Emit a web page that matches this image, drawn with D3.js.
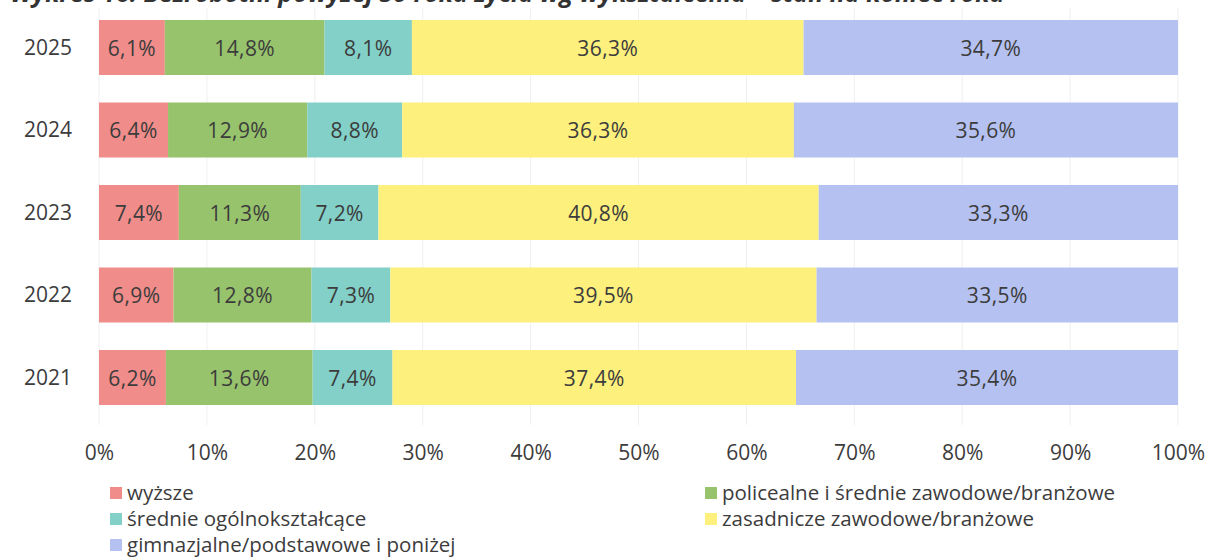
<!DOCTYPE html>
<html>
<head>
<meta charset="utf-8">
<script src="https://d3js.org/d3.v7.min.js"></script>
<style>
	html, body { margin: 0; padding: 0; background: #fff; }
	svg { display: block; font-family: 'Open Sans', sans-serif; }
</style>
</head>
<body>
<div id="chart"></div>
<script>
// Data
const years = ['2025', '2024', '2023', '2022', '2021'];
const categories = ['wyższe', 'policealne i średnie zawodowe/branżowe', 'średnie ogólnokształcące', 'zasadnicze zawodowe/branżowe', 'gimnazjalne/podstawowe i poniżej'];
const wyzsze = [6.1, 6.4, 7.4, 6.9, 6.2];
const policealne = [14.8, 12.9, 11.3, 12.8, 13.6];
const srednie = [8.1, 8.8, 7.2, 7.3, 7.4];
const zasadnicze = [36.3, 36.3, 40.8, 39.5, 37.4];
const gimnazjalne = [34.7, 35.6, 33.3, 33.5, 35.4];
const tickValues = [0, 10, 20, 30, 40, 50, 60, 70, 80, 90, 100];
const colors = ['#f08c8a', '#97c36c', '#82d0c7', '#fdf07c', '#b5c1f0'];

const width = 1210, height = 557;
const svg = d3.select('#chart').append('svg')
	.attr('width', width)
	.attr('height', height);

// Title (cut off at the top edge, as in the source)
svg.append('text')
	.attr('x', 10)
	.attr('y', 2)
	.attr('font-size', 25)
	.attr('font-weight', 'bold')
	.attr('font-style', 'italic')
	.attr('fill', '#333')
	.text('Wykres 16. Bezrobotni powyżej 50 roku życia wg wykształcenia – stan na koniec roku');

const x = d3.scaleLinear().domain([0, 100]).range([99, 1178]);
const y = d3.scaleBand().domain(years).range([6.25, 418.75]).paddingInner(1 / 3).paddingOuter(1 / 6);

// Grid
svg.selectAll('line.grid')
	.data(tickValues)
	.join('line')
	.attr('class', 'grid')
	.attr('x1', d => x(d)).attr('x2', d => x(d))
	.attr('y1', 8).attr('y2', 425)
	.attr('stroke', '#efefef')
	.attr('stroke-width', 1);

// Stack
const rows = years.map((yr, i) => ({
	year: yr,
	values: [wyzsze[i], policealne[i], srednie[i], zasadnicze[i], gimnazjalne[i]]
}));
const segments = [];
rows.forEach(r => {
	let acc = 0;
	r.values.forEach((v, k) => {
		segments.push({ year: r.year, k: k, x0: acc, x1: acc + v, v: v });
		acc += v;
	});
});

svg.selectAll('rect.seg')
	.data(segments)
	.join('rect')
	.attr('class', 'seg')
	.attr('x', d => x(d.x0))
	.attr('width', d => Math.min(x(d.x1), x(100)) - x(d.x0))
	.attr('y', d => y(d.year))
	.attr('height', y.bandwidth())
	.attr('fill', d => colors[d.k]);

svg.selectAll('text.val')
	.data(segments)
	.join('text')
	.attr('class', 'val')
	.attr('x', d => x((d.x0 + Math.min(d.x1, 100)) / 2))
	.attr('y', d => y(d.year) + y.bandwidth() / 2 + 1)
	.attr('dy', '0.35em')
	.attr('text-anchor', 'middle')
	.attr('font-size', 21)
	.attr('letter-spacing', 0.4)
	.attr('fill', '#3c3c3c')
	.text(d => d3.format('.1f')(d.v).replace('.', ',') + '%');

// Year labels
svg.selectAll('text.year')
	.data(years)
	.join('text')
	.attr('class', 'year')
	.attr('x', 48)
	.attr('y', d => y(d) + y.bandwidth() / 2)
	.attr('dy', '0.35em')
	.attr('text-anchor', 'middle')
	.attr('font-size', 21)
	.attr('fill', '#3c3c3c')
	.text(d => d);

// X axis
const xAxis = svg.append('g')
	.attr('transform', 'translate(0,442)')
	.call(d3.axisBottom(x).tickValues(tickValues).tickFormat(d => d + '%').tickSize(0));
xAxis.select('.domain').remove();
xAxis.selectAll('text')
	.attr('font-size', 21)
	.attr('font-family', "'Open Sans', sans-serif")
	.attr('fill', '#3c3c3c');

// Legend
const legendPos = [
	{ x: 110, y: 493 },
	{ x: 705, y: 493 },
	{ x: 110, y: 519 },
	{ x: 705, y: 519 },
	{ x: 110, y: 545 }
];
const legend = svg.selectAll('g.legend')
	.data(categories)
	.join('g')
	.attr('class', 'legend')
	.attr('transform', (d, i) => 'translate(' + legendPos[i].x + ',' + legendPos[i].y + ')');
legend.append('rect')
	.attr('x', 0).attr('y', -6)
	.attr('width', 12).attr('height', 12)
	.attr('fill', (d, i) => colors[i]);
legend.append('text')
	.attr('x', 17)
	.attr('dy', '0.35em')
	.attr('font-size', 20.5)
	.attr('fill', '#3c3c3c')
	.text(d => d);
</script>
</body>
</html>
